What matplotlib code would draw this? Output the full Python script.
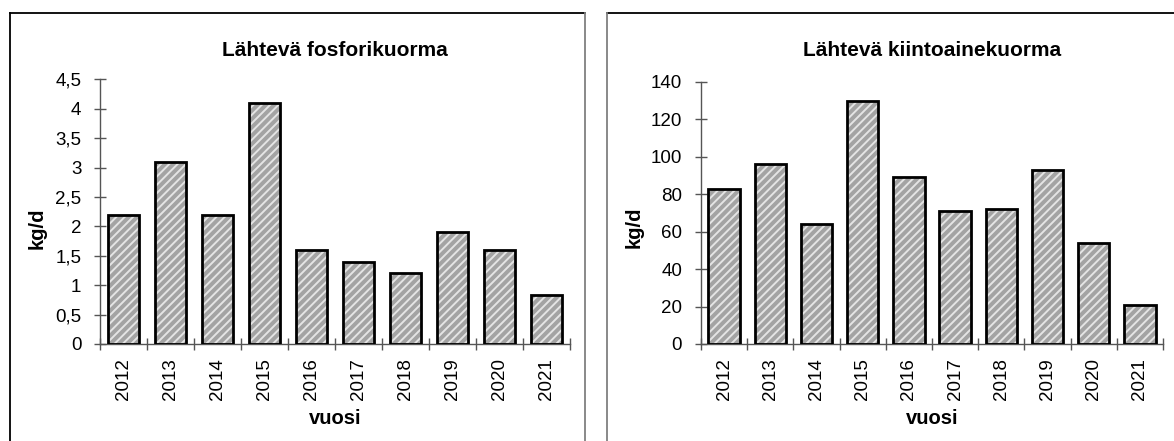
import matplotlib
matplotlib.use("Agg")
import matplotlib.pyplot as plt
from matplotlib.lines import Line2D
from matplotlib.ticker import FixedLocator, FuncFormatter

plt.rcParams["font.family"] = ["Liberation Sans", "DejaVu Sans"]
plt.rcParams["hatch.linewidth"] = 1.4

years = ["2012", "2013", "2014", "2015", "2016", "2017", "2018", "2019", "2020", "2021"]
phosphorus_load = [2.2, 3.1, 2.2, 4.1, 1.6, 1.4, 1.2, 1.9, 1.6, 0.83]
solids_load = [83, 96, 64, 130, 89, 71, 72, 93, 54, 21]

phosphorus_ticks = [0, 0.5, 1, 1.5, 2, 2.5, 3, 3.5, 4, 4.5]
solids_ticks = [0, 20, 40, 60, 80, 100, 120, 140]

W, H = 1174, 441
fig = plt.figure(figsize=(W / 100, H / 100), dpi=100)


def fx(px):
    return px / W


def fy(py):
    return 1 - py / H


def add_px_axes(x0, x1, ytop, ybot):
    return fig.add_axes([fx(x0), fy(ybot), (x1 - x0) / W, (ybot - ytop) / H])


def comma_fmt(v, _pos):
    return f"{v:g}".replace(".", ",")


def draw_panel(ax, values, yticks, ymax):
    x = list(range(len(values)))
    # striped fill
    ax.bar(x, values, width=0.68, color="#a3a3a3", edgecolor="#e4e4e4",
           linewidth=0, hatch="////", zorder=2)
    # black outline
    ax.bar(x, values, width=0.68, fill=False, edgecolor="black",
           linewidth=2.0, zorder=3)
    ax.set_xlim(-0.5, len(values) - 0.5)
    ax.set_ylim(0, ymax)
    for s in ("top", "right"):
        ax.spines[s].set_visible(False)
    for s in ("left", "bottom"):
        ax.spines[s].set_color("#555555")
        ax.spines[s].set_linewidth(1.0)
    ax.set_yticks(yticks)
    ax.yaxis.set_major_formatter(FuncFormatter(comma_fmt))
    ax.tick_params(axis="y", direction="inout", length=9, width=1,
                   color="#555555", pad=9, labelsize=13.5)
    ax.set_xticks(x)
    ax.set_xticklabels(years, rotation=90)
    ax.tick_params(axis="x", which="major", length=0, pad=10, labelsize=13.5)
    ax.xaxis.set_minor_locator(FixedLocator([i - 0.5 for i in range(len(values) + 1)]))
    ax.tick_params(axis="x", which="minor", direction="inout", length=8,
                   width=1, color="#555555")


ax1 = add_px_axes(100, 570, 79.4, 344)
draw_panel(ax1, phosphorus_load, phosphorus_ticks, 4.5)

ax2 = add_px_axes(701, 1163, 82, 344)
draw_panel(ax2, solids_load, solids_ticks, 140)

# chart frames
frame_lines = [
    ([10, 585], [13, 13], "black"),
    ([10, 10], [13, 441], "black"),
    ([585, 585], [13, 441], "#808080"),
    ([607, 1174], [13, 13], "black"),
    ([607, 607], [13, 441], "#808080"),
]
for xs, ys, c in frame_lines:
    fig.add_artist(Line2D([fx(v) for v in xs], [fy(v) for v in ys],
                          color=c, linewidth=1.3, transform=fig.transFigure))

# titles and axis labels
fig.text(fx(335), fy(50), "Lähtevä fosforikuorma", ha="center", va="center",
         fontsize=15, fontweight="bold")
fig.text(fx(932), fy(50), "Lähtevä kiintoainekuorma", ha="center", va="center",
         fontsize=15, fontweight="bold")
fig.text(fx(37.5), fy(228), "kg/d", ha="center", va="center", rotation=90,
         fontsize=14.5, fontweight="bold")
fig.text(fx(634), fy(227), "kg/d", ha="center", va="center", rotation=90,
         fontsize=14.5, fontweight="bold")
fig.text(fx(335), fy(418), "vuosi", ha="center", va="center",
         fontsize=14.5, fontweight="bold")
fig.text(fx(932), fy(418), "vuosi", ha="center", va="center",
         fontsize=14.5, fontweight="bold")

fig.savefig("out.png", dpi=100)
